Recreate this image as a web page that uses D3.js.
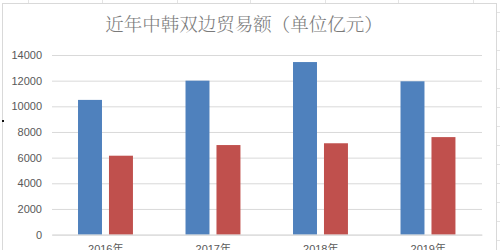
<!DOCTYPE html>
<html>
<head>
<meta charset="utf-8">
<script src="https://cdn.jsdelivr.net/npm/d3@7"></script>
<style>
  html, body { margin: 0; padding: 0; background: #ffffff; }
  svg { display: block; }
</style>
</head>
<body>
<svg id="chart" width="500" height="250"></svg>
<script>
// Bilateral trade volume, China–Korea (unit: 100 million yuan)
const titleText = "近年中韩双边贸易额（单位亿元）";
const categories = ["2016年", "2017年", "2018年", "2019年"];
const seriesNames = ["系列1", "系列2"];
const series1 = [10500, 12000, 13450, 11950];
const series2 = [6150, 6980, 7120, 7600];
const yTicks = [0, 2000, 4000, 6000, 8000, 10000, 12000, 14000];
const colors = ["#4f81bd", "#c0504d"];

const svg = d3.select("#chart");

// Faint sheet cell lines behind the chart object
const sheet = svg.append("g").attr("stroke", "#e4e4e4").attr("stroke-width", 1);
[28, 102, 177, 250, 325, 398, 473].forEach(x => {
  sheet.append("line").attr("x1", x + 0.5).attr("x2", x + 0.5).attr("y1", 0).attr("y2", 3);
});
d3.range(12, 250, 19).forEach(yy => {
  sheet.append("line").attr("x1", 497).attr("x2", 500).attr("y1", yy + 0.5).attr("y2", yy + 0.5);
});

// Chart frame
svg.append("rect")
  .attr("x", 2.5).attr("y", 3.5)
  .attr("width", 494).attr("height", 260)
  .attr("fill", "#ffffff")
  .attr("stroke", "#d9d9d9");

// Selection handle
svg.append("rect").attr("x", 2).attr("y", 120).attr("width", 2).attr("height", 2).attr("fill", "#111");

const plotLeft = 52, plotRight = 482, plotTop = 55, plotBottom = 234.6;

const x0 = d3.scaleBand().domain(categories).range([plotLeft, plotRight]).padding(0);
const bw = x0.bandwidth();
const x1 = d3.scaleBand().domain(seriesNames)
  .range([bw * 0.242, bw * 0.753]).paddingInner(0.226).paddingOuter(0);
const y = d3.scaleLinear().domain([0, 14000]).range([plotBottom, plotTop]);

// Gridlines and y labels via axis
const yAxis = d3.axisLeft(y).tickValues(yTicks).tickSize(-(plotRight - plotLeft)).tickPadding(10).tickFormat(d3.format("d"));
const gy = svg.append("g").attr("transform", `translate(${plotLeft},0)`).call(yAxis);
gy.select(".domain").remove();
gy.selectAll(".tick line").attr("stroke", "#d9d9d9").attr("stroke-width", 1);
gy.selectAll(".tick text")
  .attr("fill", "#595959")
  .attr("font-family", "'Liberation Sans', 'DejaVu Sans', sans-serif")
  .attr("font-size", 11);

// Bars
const data = categories.map((c, i) => ({ cat: c, vals: [series1[i], series2[i]] }));
const groups = svg.append("g").selectAll("g").data(data).join("g")
  .attr("transform", d => `translate(${x0(d.cat)},0)`);
groups.selectAll("rect")
  .data(d => d.vals.map((v, j) => ({ key: seriesNames[j], v, j })))
  .join("rect")
  .attr("x", d => x1(d.key))
  .attr("width", x1.bandwidth())
  .attr("y", d => y(d.v))
  .attr("height", d => y(0) - y(d.v))
  .attr("fill", d => colors[d.j]);

// Category axis
const xAxis = d3.axisBottom(x0).tickSize(0).tickPadding(11);
const gx = svg.append("g").attr("transform", `translate(0,${plotBottom})`).call(xAxis);
gx.select(".domain").attr("stroke", "#d9d9d9");
gx.selectAll(".tick text")
  .attr("fill", "#595959")
  .attr("font-family", "'Liberation Sans', 'Noto Sans CJK SC', sans-serif")
  .attr("font-size", 11);

// Title
svg.append("text")
  .attr("x", 244).attr("y", 31)
  .attr("text-anchor", "middle")
  .attr("fill", "#7a7a7a")
  .attr("font-family", "'Noto Serif CJK SC', 'Noto Sans CJK SC', serif")
  .attr("font-weight", 300)
  .attr("font-size", 18.5)
  .text(titleText);
</script>
</body>
</html>
